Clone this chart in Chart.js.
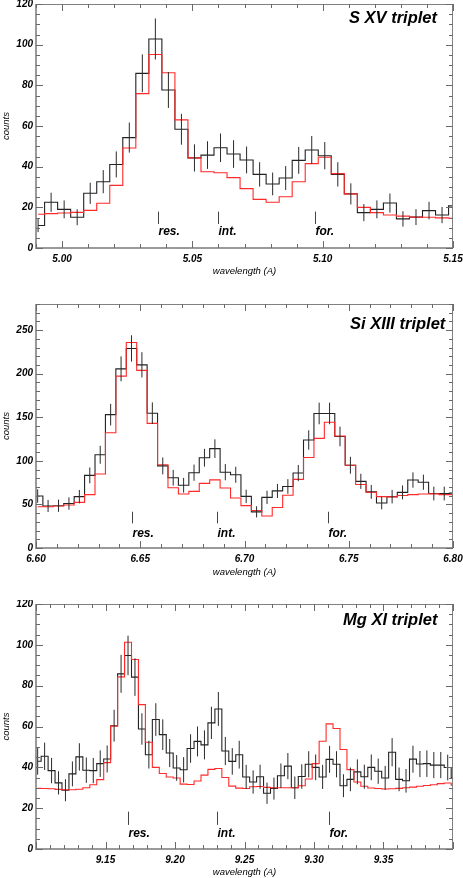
<!DOCTYPE html>
<html lang="en">
<head>
  <meta charset="UTF-8">
  <title>He-like triplets</title>
  <script src="https://cdn.jsdelivr.net/npm/chart.js"></script>
  <style>
    html, body { margin: 0; padding: 0; background: #fff; }
    body { width: 463px; height: 878px; position: relative; overflow: hidden; }
    canvas { position: absolute; left: 0; }
  </style>
</head>
<body>
  <canvas id="sxv" width="463" height="280" style="top:0"></canvas>
  <canvas id="si" width="463" height="280" style="top:300px"></canvas>
  <canvas id="mg" width="463" height="278" style="top:600px"></canvas>

  <script>
    // ---- S XV ----
    const sxvWave = [4.9908, 4.9958, 5.0008, 5.0058, 5.0108, 5.0158, 5.0208, 5.0258, 5.0308, 5.0358,
      5.0408, 5.0458, 5.0508, 5.0558, 5.0608, 5.0658, 5.0708, 5.0758, 5.0808, 5.0858,
      5.0908, 5.0958, 5.1008, 5.1058, 5.1108, 5.1158, 5.1208, 5.1258, 5.1308, 5.1358,
      5.1408, 5.1458, 5.1508];
    const sxvCounts = [11.1, 22.5, 19.0, 15.1, 26.9, 32.6, 41.1, 54.3, 85.9, 102.8,
      77.7, 58.4, 44.3, 45.7, 49.3, 46.2, 43.3, 36.2, 31.5, 34.4,
      43.1, 48.2, 45.4, 36.2, 26.6, 17.4, 19.0, 22.1, 14.3, 15.2,
      18.4, 16.2, 20.7];
    const sxvErr = [3.3, 4.7, 4.4, 3.9, 5.2, 5.7, 6.4, 7.4, 9.3, 10.1,
      8.8, 7.6, 6.7, 6.8, 7.0, 6.8, 6.6, 6.0, 5.6, 5.9,
      6.6, 6.9, 6.7, 6.0, 5.2, 4.2, 4.4, 4.7, 3.8, 3.9,
      4.3, 4.0, 4.5];
    const sxvModel = [16.6, 16.9, 17.2, 17.5, 18.5, 22.0, 30.8, 49.2, 75.9, 95.2,
      86.2, 63.0, 44.3, 37.5, 37.0, 34.6, 29.2, 23.9, 22.5, 25.2,
      32.6, 41.5, 44.6, 36.6, 26.6, 20.0, 17.4, 16.2, 15.7, 15.2,
      15.1, 14.8, 14.6];
    const sxvLines = [5.037, 5.060, 5.097];
    const sxvXTicks = [5.00, 5.05, 5.10, 5.15];
    const sxvYTicks = [0, 20, 40, 60, 80, 100, 120];

    // ---- Si XIII ----
    const siWave = [6.6008, 6.6058, 6.6108, 6.6158, 6.6208, 6.6258, 6.6308, 6.6358, 6.6408, 6.6458,
      6.6508, 6.6558, 6.6608, 6.6658, 6.6708, 6.6758, 6.6808, 6.6858, 6.6908, 6.6958,
      6.7008, 6.7058, 6.7108, 6.7158, 6.7208, 6.7258, 6.7308, 6.7358, 6.7408, 6.7458,
      6.7508, 6.7558, 6.7608, 6.7658, 6.7708, 6.7758, 6.7808, 6.7858, 6.7908, 6.7958,
      6.8008];
    const siCounts = [59.6, 48.2, 48.5, 51.0, 58.9, 83.3, 107.0, 153.0, 205.6, 229.0,
      210.2, 154.7, 94.2, 80.6, 72.0, 86.4, 103.6, 114.0, 87.0, 84.0,
      59.2, 41.5, 58.1, 65.5, 70.6, 86.0, 123.9, 154.4, 154.4, 128.0,
      95.0, 76.5, 64.4, 51.6, 58.9, 63.8, 78.0, 75.5, 62.5, 62.5,
      63.0];
    const siErr = [7.7, 6.9, 7.0, 7.1, 7.7, 9.1, 10.3, 12.4, 14.3, 15.1,
      14.5, 12.4, 9.7, 9.0, 8.5, 9.3, 10.2, 10.7, 9.3, 9.2,
      7.7, 6.4, 7.6, 8.1, 8.4, 9.3, 11.1, 12.4, 12.4, 11.3,
      9.7, 8.7, 8.0, 7.2, 7.7, 8.0, 8.8, 8.7, 7.9, 7.9,
      7.9];
    const siModel = [47.4, 47.4, 48.2, 49.4, 52.4, 61.2, 84.9, 132.3, 197.2, 235.9,
      203.8, 143.0, 95.6, 69.1, 61.9, 65.0, 74.2, 78.2, 68.8, 57.3,
      48.6, 43.1, 36.7, 46.5, 60.6, 78.7, 103.9, 125.8, 144.3, 128.6,
      94.9, 72.9, 64.0, 58.9, 58.7, 60.3, 61.2, 61.9, 62.1, 61.3,
      61.2];
    const siLines = [6.646, 6.687, 6.740];
    const siXTicks = [6.60, 6.65, 6.70, 6.75, 6.80];
    const siYTicks = [0, 50, 100, 150, 200, 250];

    // ---- Mg XI ----
    const mgWave = [9.1012, 9.1062, 9.1112, 9.1162, 9.1212, 9.1262, 9.1312, 9.1362, 9.1412, 9.1462,
      9.1512, 9.1562, 9.1612, 9.1662, 9.1712, 9.1762, 9.1812, 9.1862, 9.1912, 9.1962,
      9.2012, 9.2062, 9.2112, 9.2162, 9.2212, 9.2262, 9.2312, 9.2362, 9.2412, 9.2462,
      9.2512, 9.2562, 9.2612, 9.2662, 9.2712, 9.2762, 9.2812, 9.2862, 9.2912, 9.2962,
      9.3012, 9.3062, 9.3112, 9.3162, 9.3212, 9.3262, 9.3312, 9.3362, 9.3412, 9.3462,
      9.3512, 9.3562, 9.3612, 9.3662, 9.3712, 9.3762, 9.3812, 9.3862, 9.3912, 9.3962,
      9.4012];
    const mgCounts = [43.0, 45.4, 38.4, 32.4, 28.8, 36.8, 45.1, 38.6, 38.4, 41.8,
      44.1, 60.4, 85.8, 94.8, 84.2, 58.8, 46.2, 63.4, 56.0, 47.0,
      39.7, 38.8, 49.2, 52.7, 51.0, 61.8, 68.6, 48.0, 42.9, 46.2,
      35.3, 32.8, 35.4, 27.3, 29.6, 35.9, 40.6, 30.0, 35.5, 41.5,
      40.0, 35.3, 43.9, 41.5, 31.0, 34.1, 37.8, 35.4, 40.0, 38.1,
      34.8, 47.4, 34.1, 33.4, 44.0, 41.6, 41.8, 41.1, 41.1, 39.9,
      34.7];
    const mgErr = [6.6, 6.7, 6.2, 5.7, 5.4, 6.1, 6.7, 6.2, 6.2, 6.5,
      6.6, 7.8, 9.3, 9.7, 9.2, 7.7, 6.8, 8.0, 7.5, 6.9,
      6.3, 6.2, 7.0, 7.3, 7.1, 7.9, 8.3, 6.9, 6.5, 6.8,
      5.9, 5.7, 5.9, 5.2, 5.4, 6.0, 6.4, 5.5, 6.0, 6.4,
      6.3, 5.9, 6.6, 6.4, 5.6, 5.8, 6.1, 5.9, 6.3, 6.2,
      5.9, 6.9, 5.8, 5.8, 6.6, 6.4, 6.5, 6.4, 6.4, 6.3,
      5.9];
    const mgModel = [29.7, 29.6, 29.5, 29.2, 29.0, 29.0, 29.3, 30.0, 31.5, 34.0,
      42.3, 60.2, 84.3, 101.3, 92.8, 70.7, 52.3, 40.0, 37.0, 35.3,
      34.8, 31.8, 31.6, 33.3, 36.2, 39.0, 39.4, 35.0, 30.8, 29.8,
      29.6, 30.5, 30.6, 30.2, 30.0, 30.0, 30.0, 30.0, 31.0, 34.3,
      41.8, 52.8, 61.3, 59.0, 48.7, 38.9, 32.8, 30.7, 29.9, 29.6,
      29.4, 29.5, 29.7, 30.0, 30.3, 30.7, 31.1, 31.5, 32.0, 32.3,
      31.3];
    const mgLines = [9.166, 9.230, 9.311];
    const mgXTicks = [9.15, 9.20, 9.25, 9.30, 9.35];
    const mgYTicks = [0, 20, 40, 60, 80, 100, 120];

    const lineNames = ['res.', 'int.', 'for.'];

    const FONT = "'Liberation Sans', Arial, Helvetica, sans-serif";
    Chart.defaults.font.family = FONT;
    Chart.defaults.color = '#000';

    const panels = [
      { canvas: 'sxv', title: 'S XV triplet', wave: sxvWave, counts: sxvCounts, err: sxvErr, model: sxvModel,
        lines: sxvLines, xTicks: sxvXTicks, yTicks: sxvYTicks,
        xMin: 4.99, xMax: 5.15, yMax: 120, yMinor: 5, yMajor: 20,
        axisH: 32, xTitlePad: 3.3, titleLeft: 349, titleDy: 19, mark: [11.8, 17.9, 6.4] },
      { canvas: 'si', title: 'Si XIII triplet', wave: siWave, counts: siCounts, err: siErr, model: siModel,
        lines: siLines, xTicks: siXTicks, yTicks: siYTicks,
        xMin: 6.60, xMax: 6.80, yMax: 280, yMinor: 10, yMajor: 50,
        axisH: 32, xTitlePad: 2.3, titleLeft: 350, titleDy: 25, mark: [28.3, 41.6, 13] },
      { canvas: 'mg', title: 'Mg XI triplet', wave: mgWave, counts: mgCounts, err: mgErr, model: mgModel,
        lines: mgLines, xTicks: mgXTicks, yTicks: mgYTicks,
        xMin: 9.10, xMax: 9.40, yMax: 120, yMinor: 5, yMajor: 20,
        axisH: 29, xTitlePad: 0, titleLeft: 343, titleDy: 21, mark: [11.8, 18.3, 6] }
    ];

    function ticksAlong(min, max, step) {
      const out = [];
      for (let k = Math.ceil(min / step - 1e-6); k * step <= max + 1e-6; k++) out.push(k * step);
      return out;
    }

    function isMajor(v, step) {
      return Math.abs(v / step - Math.round(v / step)) < 1e-6;
    }

    function panelPlugin(p) {
      return {
        id: 'panel-' + p.canvas,
        afterDatasetsDraw(chart) {
          // error bars at bin centres
          const { ctx, chartArea: a, scales: { x, y } } = chart;
          ctx.save();
          ctx.beginPath();
          ctx.rect(a.left, a.top, a.right - a.left, a.bottom - a.top);
          ctx.clip();
          ctx.strokeStyle = '#2a2a2a';
          ctx.lineWidth = 1;
          p.wave.forEach((w, i) => {
            const px = x.getPixelForValue(w);
            ctx.beginPath();
            ctx.moveTo(px, y.getPixelForValue(p.counts[i] - p.err[i]));
            ctx.lineTo(px, y.getPixelForValue(p.counts[i] + p.err[i]));
            ctx.stroke();
          });
          ctx.restore();
        },
        afterDraw(chart) {
          const { ctx, chartArea: a, scales: { x, y } } = chart;
          ctx.save();

          // box
          ctx.strokeStyle = '#9a9a9a';
          ctx.lineWidth = 2;
          ctx.beginPath();
          ctx.moveTo(a.left, a.top); ctx.lineTo(a.left, a.bottom); ctx.lineTo(a.right, a.bottom);
          ctx.stroke();
          ctx.strokeStyle = '#808080';
          ctx.lineWidth = 1;
          ctx.beginPath();
          ctx.moveTo(a.left, a.top + 0.5); ctx.lineTo(a.right - 0.5, a.top + 0.5); ctx.lineTo(a.right - 0.5, a.bottom);
          ctx.stroke();

          // inward ticks on all four sides
          ctx.strokeStyle = '#6a6a6a';
          ctx.beginPath();
          ticksAlong(x.min, x.max, 0.01).forEach(v => {
            const len = isMajor(v, 0.05) ? 7 : 4;
            const px = Math.round(x.getPixelForValue(v)) + 0.5;
            ctx.moveTo(px, a.bottom); ctx.lineTo(px, a.bottom - len);
            ctx.moveTo(px, a.top); ctx.lineTo(px, a.top + len);
          });
          ticksAlong(y.min, y.max, p.yMinor).forEach(v => {
            const len = isMajor(v, p.yMajor) ? 7 : 4;
            const py = Math.round(y.getPixelForValue(v)) + 0.5;
            ctx.moveTo(a.left, py); ctx.lineTo(a.left + len, py);
            ctx.moveTo(a.right, py); ctx.lineTo(a.right - len, py);
          });
          ctx.stroke();

          // line identifications
          ctx.strokeStyle = '#444';
          ctx.fillStyle = '#000';
          ctx.font = 'italic bold 12px ' + FONT;
          ctx.textAlign = 'left';
          ctx.textBaseline = 'alphabetic';
          p.lines.forEach((w, i) => {
            const px = Math.round(x.getPixelForValue(w)) + 0.5;
            ctx.beginPath();
            ctx.moveTo(px, y.getPixelForValue(p.mark[0]));
            ctx.lineTo(px, y.getPixelForValue(p.mark[1]));
            ctx.stroke();
            ctx.fillText(lineNames[i], px, y.getPixelForValue(p.mark[2]));
          });

          // panel title
          ctx.font = 'italic bold 16.5px ' + FONT;
          ctx.fillText(p.title, p.titleLeft, a.top + p.titleDy);
          ctx.restore();
        }
      };
    }

    panels.forEach(p => {
      new Chart(document.getElementById(p.canvas), {
        type: 'line',
        data: {
          datasets: [
            {
              label: 'model',
              data: p.wave.map((w, i) => ({ x: w, y: p.model[i] })),
              borderColor: '#ff2a2a',
              borderWidth: 1.1,
              stepped: 'middle',
              pointRadius: 0,
              fill: false,
              clip: 0
            },
            {
              label: 'observed',
              data: p.wave.map((w, i) => ({ x: w, y: p.counts[i] })),
              borderColor: '#222',
              borderWidth: 1.1,
              stepped: 'middle',
              pointRadius: 0,
              fill: false,
              clip: 0
            }
          ]
        },
        options: {
          responsive: false,
          animation: false,
          events: [],
          layout: { padding: { top: 4, right: 10, left: 0, bottom: 0 } },
          plugins: { legend: { display: false }, tooltip: { enabled: false } },
          scales: {
            x: {
              type: 'linear',
              min: p.xMin,
              max: p.xMax,
              grid: { display: false, drawTicks: false },
              border: { display: false },
              ticks: {
                autoSkip: false,
                maxRotation: 0,
                padding: 5,
                font: { size: 10, style: 'italic', weight: 'bold' },
                callback: v => v.toFixed(2)
              },
              afterBuildTicks: s => { s.ticks = p.xTicks.map(v => ({ value: v })); },
              afterFit: s => { s.height = p.axisH; s.paddingLeft = 0; s.paddingRight = 0; },
              title: {
                display: true,
                text: 'wavelength (A)',
                font: { size: 9.5, style: 'italic' },
                padding: { top: 0, bottom: p.xTitlePad }
              }
            },
            y: {
              type: 'linear',
              min: 0,
              max: p.yMax,
              grid: { display: false, drawTicks: false },
              border: { display: false },
              ticks: {
                autoSkip: false,
                padding: 3,
                font: { size: 10, style: 'italic', weight: 'bold' },
                callback: v => String(v)
              },
              afterBuildTicks: s => { s.ticks = p.yTicks.map(v => ({ value: v })); },
              afterFit: s => { s.width = 36; s.paddingTop = 0; s.paddingBottom = 0; },
              title: {
                display: true,
                text: 'counts',
                font: { size: 9.5, style: 'italic' },
                padding: { top: 1, bottom: 0 }
              }
            }
          }
        },
        plugins: [panelPlugin(p)]
      });
    });
  </script>
</body>
</html>
